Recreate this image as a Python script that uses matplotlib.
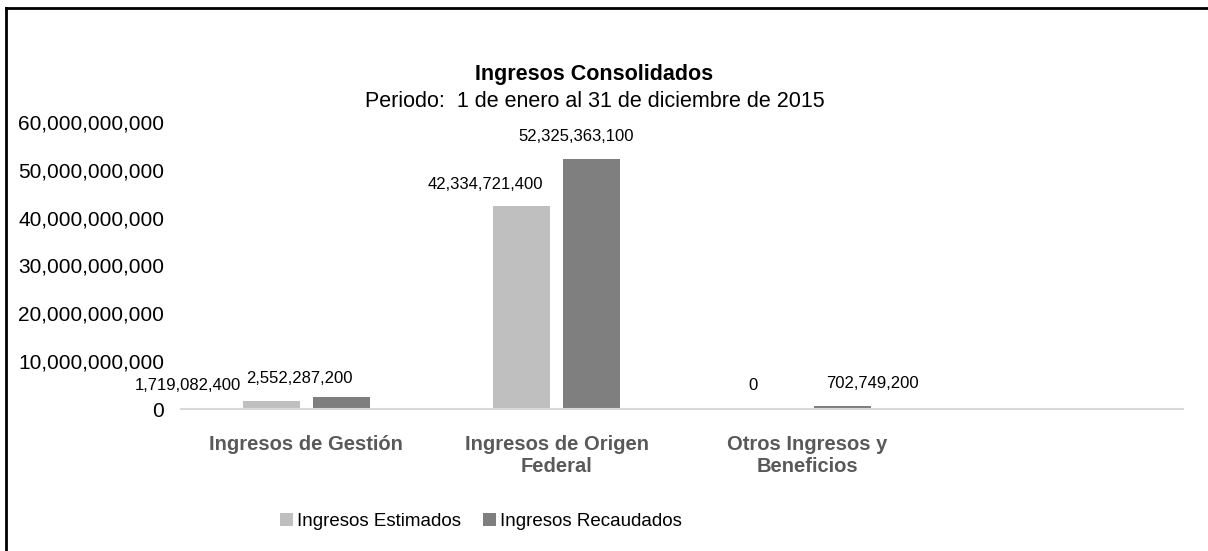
import matplotlib
matplotlib.use("Agg")
import matplotlib.pyplot as plt
from matplotlib.lines import Line2D
from matplotlib.ticker import FuncFormatter
import numpy as np

plt.rcParams["font.family"] = ["Liberation Sans", "DejaVu Sans"]

categories = ["Ingresos de Gestión", "Ingresos de Origen\nFederal", "Otros Ingresos y\nBeneficios", ""]
estimados = [1719082400, 42334721400, 0, np.nan]
recaudados = [2552287200, 52325363100, 702749200, np.nan]
series_names = ["Ingresos Estimados", "Ingresos Recaudados"]
yticks = [0, 10e9, 20e9, 30e9, 40e9, 50e9, 60e9]

light = "#bfbfbf"
dark = "#7f7f7f"

# label nudges in points (dx, dy), as Excel placed them to avoid overlap
nudge_est = [(-60, 11), (-26, 16), (-14, 17)]
nudge_rec = [(-30, 13), (-11, 16), (22, 16)]

fig = plt.figure(figsize=(12.08, 5.51), dpi=100)
ax = fig.add_axes([0.1498, 0.2577, 0.8295, 0.5209])

x = np.arange(len(categories))
w = 0.228
off = 0.14
b1 = ax.bar(x - off, estimados, w, color=light, label=series_names[0])
b2 = ax.bar(x + off, recaudados, w, color=dark, label=series_names[1])

for bars, vals, nudges in ((b1, estimados, nudge_est), (b2, recaudados, nudge_rec)):
    for rect, v, (dx, dy) in zip(bars, vals, nudges):
        ax.annotate(f"{v:,.0f}", (rect.get_x() + rect.get_width() / 2, v),
                    xytext=(dx, dy), textcoords="offset points",
                    ha="center", va="center", fontsize=12, color="black")

ax.set_xlim(-0.5, len(categories) - 0.5)
ax.set_ylim(0, 60e9)
ax.set_yticks(yticks)
ax.yaxis.set_major_formatter(FuncFormatter(lambda v, p: f"{v:,.0f}"))
ax.tick_params(axis="y", length=0, labelsize=15, pad=12)
ax.set_xticks(x)
ax.set_xticklabels(categories, fontsize=14.5, fontweight="bold", color="#595959",
                   linespacing=1.15)
ax.tick_params(axis="x", length=0, pad=19)

for s in ("top", "right", "left"):
    ax.spines[s].set_visible(False)
ax.spines["bottom"].set_color("#d9d9d9")
ax.spines["bottom"].set_linewidth(1.5)

fig.text(0.492, 0.864, "Ingresos Consolidados", ha="center", va="center",
         fontsize=15.5, fontweight="bold")
fig.text(0.492, 0.816, "Periodo:  1 de enero al 31 de diciembre de 2015", ha="center",
         va="center", fontsize=15.5)

fig.legend(handles=[b1, b2], loc="center", bbox_to_anchor=(0.398, 0.054), ncol=2,
           frameon=False, fontsize=13.5, handlelength=0.7, handleheight=0.7,
           handletextpad=0.2, columnspacing=1.2)

# outer frame (left and top edges visible)
fig.add_artist(Line2D([6 / 1208, 6 / 1208], [0, 1 - 8 / 551], color="black",
                      lw=2, transform=fig.transFigure))
fig.add_artist(Line2D([6 / 1208, 1], [1 - 8 / 551, 1 - 8 / 551], color="black",
                      lw=2, transform=fig.transFigure))

fig.savefig("out.png", dpi=100)
